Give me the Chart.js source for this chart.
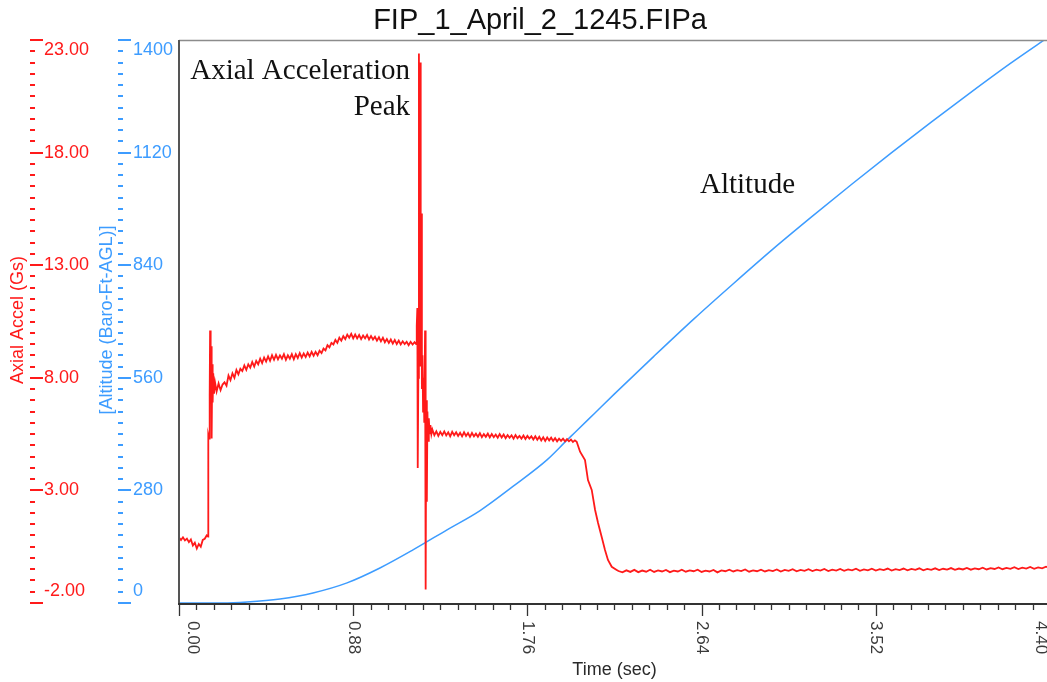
<!DOCTYPE html>
<html><head><meta charset="utf-8">
<script src="https://cdn.jsdelivr.net/npm/chart.js@4.4.1/dist/chart.umd.min.js"></script>
<style>
html,body{margin:0;padding:0;background:#fff;overflow:hidden;width:1047px;height:682px;}
#wrap{position:absolute;left:0;top:0;width:1051px;height:682px;}
</style></head><body>
<div id="wrap"><canvas id="c" width="1051" height="682"></canvas></div>
<script>
const chartTitle = 'FIP_1_April_2_1245.FIPa';
const xTitle = 'Time (sec)';
const accelTitle = 'Axial Accel (Gs)';
const altTitle = '[Altitude (Baro-Ft-AGL)]';
const noteLines = ['Axial Acceleration', 'Peak'];
const altNote = 'Altitude';

const xTickValues = [0, 0.88, 1.76, 2.64, 3.52, 4.40];
const xTickLabels = ['0.00', '0.88', '1.76', '2.64', '3.52', '4.40'];
const accelTickValues = [-2, 3, 8, 13, 18, 23];
const accelTickLabels = ['-2.00', '3.00', '8.00', '13.00', '18.00', '23.00'];
const altTickValues = [0, 280, 560, 840, 1120, 1400];
const altTickLabels = ['0', '280', '560', '840', '1120', '1400'];

// Axial acceleration (Gs)
const accelTime = [
 0.000,0.010,0.020,0.030,0.040,0.050,0.060,0.070,0.080,0.090,
 0.100,0.110,0.120,0.130,0.140,0.147,
 0.148,0.152,0.155,0.157,0.160,0.163,0.165,0.168,0.170,0.173,0.177,0.182,
 0.19,0.20,0.21,0.22,0.23,0.24,0.25,0.26,0.27,0.28,
 0.29,0.30,0.31,0.32,0.33,0.34,0.35,0.36,0.37,0.38,
 0.39,0.40,0.41,0.42,0.43,0.44,0.45,0.46,0.47,0.48,
 0.49,0.50,0.51,0.52,0.53,0.54,0.55,0.56,0.57,0.58,
 0.59,0.60,0.61,0.62,0.63,0.64,0.65,0.66,0.67,0.68,
 0.69,0.70,0.71,0.72,0.73,0.74,0.75,0.76,0.77,0.78,
 0.79,0.80,0.81,0.82,0.83,0.84,0.85,0.86,0.87,0.88,
 0.89,0.90,0.91,0.92,0.93,0.94,0.95,0.96,0.97,0.98,
 0.99,1.00,1.01,1.02,1.03,1.04,1.05,1.06,1.07,1.08,
 1.09,1.10,1.11,1.12,1.13,1.14,1.15,1.16,1.17,1.18,
 1.19,1.198,
 1.201,1.204,1.206,1.209,1.212,1.215,1.218,1.221,1.224,1.227,
 1.230,1.233,1.236,1.239,1.243,1.246,1.249,1.252,1.255,1.258,
 1.262,1.266,1.270,1.275,
 1.28,1.29,1.30,1.31,1.32,1.33,1.34,1.35,1.36,1.37,
 1.38,1.39,1.40,1.41,1.42,1.43,1.44,1.45,1.46,1.47,
 1.48,1.49,1.50,1.51,1.52,1.53,1.54,1.55,1.56,1.57,
 1.58,1.59,1.60,1.61,1.62,1.63,1.64,1.65,1.66,1.67,
 1.68,1.69,1.70,1.71,1.72,1.73,1.74,1.75,1.76,1.77,
 1.78,1.79,1.80,1.81,1.82,1.83,1.84,1.85,1.86,1.87,
 1.88,1.89,1.90,1.91,1.92,1.93,1.94,1.95,1.96,1.97,
 1.98,1.99,2.00,
 2.009,2.026,2.051,2.066,2.085,2.102,2.117,2.135,2.152,2.167,
 2.186,2.211,
 2.22,2.24,2.26,2.28,2.30,2.32,2.34,2.36,2.38,2.40,
 2.42,2.44,2.46,2.48,2.50,2.52,2.54,2.56,2.58,2.60,
 2.62,2.64,2.66,2.68,2.70,2.72,2.74,2.76,2.78,2.80,
 2.82,2.84,2.86,2.88,2.90,2.92,2.94,2.96,2.98,3.00,
 3.02,3.04,3.06,3.08,3.10,3.12,3.14,3.16,3.18,3.20,
 3.22,3.24,3.26,3.28,3.30,3.32,3.34,3.36,3.38,3.40,
 3.42,3.44,3.46,3.48,3.50,3.52,3.54,3.56,3.58,3.60,
 3.62,3.64,3.66,3.68,3.70,3.72,3.74,3.76,3.78,3.80,
 3.82,3.84,3.86,3.88,3.90,3.92,3.94,3.96,3.98,4.00,
 4.02,4.04,4.06,4.08,4.10,4.12,4.14,4.16,4.18,4.20,
 4.22,4.24,4.26,4.28,4.30,4.32,4.34,4.36,4.38,4.40
];
const accelValues = [
 0.90,0.80,0.92,0.78,0.86,0.70,0.82,0.55,0.68,0.42,
 0.62,0.50,0.80,0.85,1.00,0.95,
 5.46,5.30,7.20,10.10,7.80,9.40,5.30,8.60,6.90,8.20,7.30,7.80,
 7.40,7.75,7.45,7.70,7.80,7.65,8.10,7.90,8.20,8.00,
 8.35,8.15,8.40,8.30,8.55,8.35,8.60,8.45,8.70,8.50,
 8.75,8.60,8.85,8.65,8.90,8.72,8.95,8.75,9.00,8.80,
 9.02,8.82,9.00,8.85,9.05,8.80,9.00,8.85,9.05,8.82,
 9.05,8.88,9.10,8.90,9.08,8.92,9.12,8.95,9.15,8.98,
 9.15,9.00,9.20,9.10,9.30,9.22,9.45,9.35,9.55,9.48,
 9.68,9.55,9.78,9.65,9.85,9.72,9.92,9.78,9.95,9.75,
 9.92,9.75,9.90,9.72,9.88,9.75,9.90,9.70,9.85,9.70,
 9.82,9.65,9.80,9.62,9.78,9.58,9.72,9.55,9.70,9.52,
 9.68,9.50,9.65,9.48,9.62,9.50,9.60,9.45,9.60,9.48,
 9.58,9.50,
 10.30,11.10,4.00,8.00,22.40,14.00,22.00,8.50,15.30,7.50,
 9.00,6.50,8.00,6.00,10.10,-1.40,7.00,2.50,6.50,5.20,
 6.20,5.50,5.90,5.50,
 5.70,5.45,5.62,5.42,5.60,5.45,5.62,5.44,5.58,5.40,
 5.60,5.45,5.58,5.42,5.56,5.40,5.58,5.42,5.55,5.38,
 5.55,5.40,5.52,5.38,5.54,5.36,5.50,5.38,5.52,5.35,
 5.50,5.36,5.48,5.34,5.50,5.35,5.48,5.32,5.46,5.34,
 5.45,5.30,5.46,5.32,5.42,5.30,5.44,5.28,5.42,5.30,
 5.40,5.26,5.40,5.25,5.38,5.22,5.36,5.20,5.35,5.22,
 5.34,5.20,5.32,5.18,5.30,5.20,5.30,5.18,5.28,5.18,
 5.26,5.15,5.22,
 5.16,4.72,4.35,3.46,3.02,2.13,1.55,0.94,0.35,-0.09,
 -0.39,-0.53,
 -0.58,-0.64,-0.55,-0.62,-0.53,-0.63,-0.56,-0.61,-0.52,-0.62,
 -0.55,-0.60,-0.53,-0.63,-0.56,-0.60,-0.52,-0.61,-0.55,-0.59,
 -0.52,-0.62,-0.56,-0.60,-0.53,-0.64,-0.55,-0.59,-0.52,-0.60,
 -0.54,-0.58,-0.51,-0.61,-0.55,-0.59,-0.52,-0.60,-0.54,-0.58,
 -0.51,-0.60,-0.53,-0.57,-0.50,-0.59,-0.53,-0.57,-0.50,-0.58,
 -0.52,-0.56,-0.49,-0.58,-0.52,-0.56,-0.49,-0.57,-0.51,-0.55,
 -0.48,-0.57,-0.51,-0.55,-0.48,-0.56,-0.50,-0.54,-0.47,-0.56,
 -0.50,-0.54,-0.47,-0.55,-0.49,-0.53,-0.46,-0.55,-0.49,-0.53,
 -0.46,-0.54,-0.48,-0.52,-0.45,-0.53,-0.47,-0.51,-0.44,-0.52,
 -0.46,-0.50,-0.43,-0.51,-0.45,-0.49,-0.42,-0.50,-0.44,-0.48,
 -0.41,-0.49,-0.43,-0.47,-0.40,-0.48,-0.42,-0.46,-0.39,-0.45
];

// Altitude (ft AGL)
const altTime = [0.00,0.22,0.344,0.51,0.677,0.849,1.015,1.182,1.354,1.521,1.687,1.859,1.96,2.00,2.10,2.20,2.40,2.60,2.80,3.00,3.20,3.40,3.60,3.80,4.00,4.20,4.40];
const altValues = [0,0,2.5,10,25,50,87,132,182,230,290,356,405,424,472,520,614,706,794,880,962,1042,1120,1196,1270,1342,1410];

const xMinorStep = 0.088, accelMinorStep = 0.5, altMinorStep = 28;

const accelPoints = accelTime.map((t, i) => ({x: t, y: accelValues[i]}));
const altPoints = altTime.map((t, i) => ({x: t, y: altValues[i]}));

const RED = '#ff1a1a', BLUE = '#3d9cff';
const SANS = '"Liberation Sans", Arial, sans-serif';
const SERIF = '"Liberation Serif", "Times New Roman", serif';

const drawPlugin = {
  id: 'customAxes',
  afterDraw(chart) {
    const ctx = chart.ctx, ca = chart.chartArea;
    const xs = chart.scales.x, ya = chart.scales.yAccel, yb = chart.scales.yAlt;
    ctx.save();
    // plot frame
    ctx.lineWidth = 1.5;
    ctx.strokeStyle = '#8c8c8c';
    ctx.beginPath(); ctx.moveTo(ca.left, ca.top + 0.5); ctx.lineTo(ca.right, ca.top + 0.5); ctx.stroke();
    ctx.strokeStyle = '#555';
    ctx.lineWidth = 2;
    ctx.beginPath(); ctx.moveTo(ca.left, ca.top); ctx.lineTo(ca.left, ca.bottom + 1); ctx.stroke();
    ctx.strokeStyle = '#333';
    ctx.beginPath(); ctx.moveTo(ca.left - 1, ca.bottom + 1); ctx.lineTo(ca.right, ca.bottom + 1); ctx.stroke();
    // x ticks
    ctx.lineWidth = 1.3;
    ctx.strokeStyle = '#333';
    const nX = Math.round((xs.max - xs.min) / xMinorStep);
    for (let i = 0; i <= nX; i++) {
      const px = Math.round(xs.getPixelForValue(xs.min + i * xMinorStep)) + 0.5;
      const len = (i % 10 === 0) ? 12 : 6;
      ctx.beginPath(); ctx.moveTo(px, ca.bottom + 1); ctx.lineTo(px, ca.bottom + 1 + len); ctx.stroke();
    }
    ctx.fillStyle = '#3a3a3a';
    ctx.font = '17px ' + SANS;
    ctx.textAlign = 'left'; ctx.textBaseline = 'middle';
    xTickValues.forEach((v, i) => {
      let px = xs.getPixelForValue(v);
      if (i === 0) px += 14;
      if (i === xTickValues.length - 1) px -= 9;
      ctx.save(); ctx.translate(px, ca.bottom + 18); ctx.rotate(Math.PI / 2);
      ctx.fillText(xTickLabels[i], 0, 0); ctx.restore();
    });
    // x title
    ctx.fillStyle = '#2a2a2a';
    ctx.font = '18px ' + SANS;
    ctx.textAlign = 'center';
    ctx.fillText(xTitle, (ca.left + ca.right) / 2, 670);
    // left axes
    const drawYAxis = (scale, step, tickVals, tickLbls, color, x0, labelX) => {
      ctx.strokeStyle = color; ctx.fillStyle = color; ctx.lineWidth = 2;
      const n = Math.round((scale.max - scale.min) / step);
      for (let i = 0; i <= n; i++) {
        const v = scale.min + i * step;
        const py = Math.round(scale.getPixelForValue(v));
        const major = i % 10 === 0;
        ctx.beginPath(); ctx.moveTo(x0, py); ctx.lineTo(x0 + (major ? 13 : 5), py); ctx.stroke();
      }
      ctx.font = '18px ' + SANS; ctx.textAlign = 'left'; ctx.textBaseline = 'middle';
      tickVals.forEach((v, i) => {
        let py = scale.getPixelForValue(v);
        if (i === 0) py -= 12;
        if (i === tickVals.length - 1) py += 10;
        ctx.fillText(tickLbls[i], labelX, py);
      });
    };
    drawYAxis(ya, accelMinorStep, accelTickValues, accelTickLabels, RED, 30, 44);
    drawYAxis(yb, altMinorStep, altTickValues, altTickLabels, BLUE, 118, 133);
    // axis titles
    ctx.font = '18px ' + SANS; ctx.textAlign = 'center'; ctx.textBaseline = 'middle';
    ctx.fillStyle = RED;
    ctx.save(); ctx.translate(18.5, 320); ctx.rotate(-Math.PI / 2); ctx.fillText(accelTitle, 0, 0); ctx.restore();
    ctx.fillStyle = BLUE;
    ctx.save(); ctx.translate(107, 320); ctx.rotate(-Math.PI / 2); ctx.fillText(altTitle, 0, 0); ctx.restore();
    // chart title
    ctx.fillStyle = '#111';
    ctx.font = '29px ' + SANS; ctx.textAlign = 'center'; ctx.textBaseline = 'alphabetic';
    ctx.fillText(chartTitle, 540, 29);
    // annotations
    ctx.fillStyle = '#111';
    ctx.font = '29px ' + SERIF; ctx.textAlign = 'right';
    ctx.fillText(noteLines[0], 410, 79);
    ctx.fillText(noteLines[1], 410, 115);
    ctx.textAlign = 'left';
    ctx.fillText(altNote, 700, 193);
    ctx.restore();
  }
};

new Chart(document.getElementById('c'), {
  type: 'scatter',
  data: {
    datasets: [
      {label: 'Axial Accel', data: accelPoints, yAxisID: 'yAccel', showLine: true, borderColor: RED,
       borderWidth: 1.8, pointRadius: 0, tension: 0},
      {label: 'Altitude', data: altPoints, yAxisID: 'yAlt', showLine: true, borderColor: BLUE,
       borderWidth: 1.5, pointRadius: 0, cubicInterpolationMode: 'monotone'}
    ]
  },
  options: {
    responsive: false, animation: false,
    layout: {padding: {left: 179, right: 1, top: 40, bottom: 79}},
    plugins: {legend: {display: false}, tooltip: {enabled: false}, title: {display: false}},
    scales: {
      x: {type: 'linear', min: 0, max: 4.4, display: false},
      yAccel: {type: 'linear', position: 'left', min: -2, max: 23, display: false},
      yAlt: {type: 'linear', position: 'left', min: 0, max: 1400, display: false}
    }
  },
  plugins: [drawPlugin]
});
</script>
</body></html>
